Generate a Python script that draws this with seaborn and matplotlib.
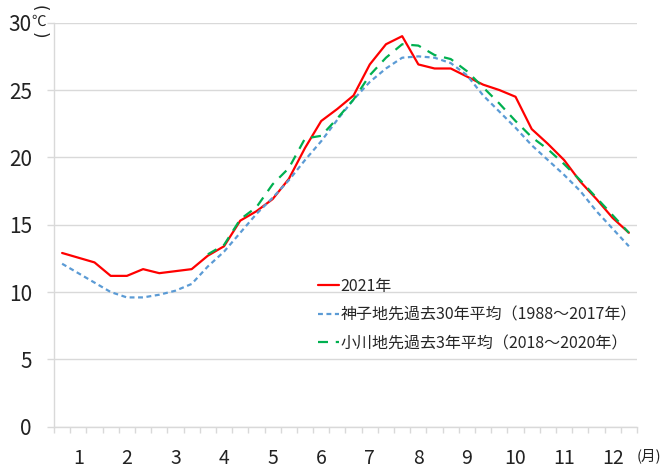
import numpy as np
import pandas as pd
import matplotlib.pyplot as plt
import seaborn as sns

# 旬別 (上旬・中旬・下旬) x 12 months
months = [str(m) for m in range(1, 13)]
periods = [f"{m}月{p}" for m in range(1, 13) for p in ["上旬", "中旬", "下旬"]]

temp_2021 = [12.9, 12.55, 12.2, 11.2, 11.2, 11.7, 11.4, 11.55, 11.7,
             12.7, 13.4, 15.3, 16.0, 16.9, 18.4, 20.7, 22.7, 23.6,
             24.6, 26.9, 28.4, 29.0, 26.9, 26.6, 26.6, 26.0, 25.4,
             25.0, 24.5, 22.1, 21.0, 19.8, 18.2, 16.9, 15.5, 14.4]
kobe_30yr = [12.1, 11.4, 10.7, 10.0, 9.6, 9.6, 9.8, 10.1, 10.6,
             11.9, 13.0, 14.4, 15.8, 17.0, 18.3, 19.8, 21.2, 22.8,
             24.3, 25.6, 26.6, 27.4, 27.5, 27.4, 27.0, 26.1, 24.6,
             23.4, 22.2, 20.9, 19.8, 18.7, 17.5, 16.0, 14.7, 13.4]
ogawa_3yr = [np.nan] * 9 + [12.8, 13.5, 15.4, 16.3, 18.0, 19.2, 21.4, 21.6, 22.9,
                            24.3, 26.1, 27.4, 28.4, 28.3, 27.6, 27.3, 26.4, 25.2,
                            24.0, 22.7, 21.5, 20.6, 19.5, 18.3, 17.0, 15.7, 14.4]

labels = ["2021年",
          "神子地先過去30年平均（1988～2017年）",
          "小川地先過去3年平均（2018～2020年）"]

df = pd.DataFrame({"period": periods, "pos": np.arange(len(periods)),
                   "t2021": temp_2021, "kobe": kobe_30yr, "ogawa": ogawa_3yr})

sns.set_theme(style="white")
plt.rcParams["font.family"] = ["Noto Sans CJK JP", "DejaVu Sans"]

fig = plt.figure(figsize=(6.62, 4.69), dpi=100)
ax = fig.add_axes([0.0816, 0.0902, 0.8806, 0.8614])

sns.lineplot(data=df, x="pos", y="t2021", ax=ax, color="#FF0000",
             linewidth=1.6, label=labels[0])
sns.lineplot(data=df, x="pos", y="kobe", ax=ax, color="#5B9BD5",
             linewidth=1.6, linestyle=(0, (2.2, 1.6)), label=labels[1])
sns.lineplot(data=df, x="pos", y="ogawa", ax=ax, color="#00B050",
             linewidth=1.6, linestyle=(0, (4.5, 3.5)), label=labels[2])

ax.set_xlim(-0.5, len(periods) - 0.5)
ax.set_ylim(0, 30)
ax.set_yticks(range(0, 31, 5))
ax.set_xticks([3 * i + 1 for i in range(12)])
ax.set_xticklabels(months, fontsize=14)
ax.set_xticks(np.arange(-0.5, len(periods), 1), minor=True)
ax.set_xlabel("")
ax.set_ylabel("")

ax.grid(axis="y", color="#D9D9D9", linewidth=1)
ax.set_axisbelow(True)
for s in ["top", "right"]:
    ax.spines[s].set_visible(False)
for s in ["left", "bottom"]:
    ax.spines[s].set_color("#D9D9D9")
    ax.spines[s].set_linewidth(1)

ax.tick_params(axis="y", which="major", left=True, length=5, width=1,
               color="#D9D9D9", labelsize=15, pad=11, labelcolor="#222222")
ax.tick_params(axis="x", which="major", bottom=True, length=0, pad=15,
               labelcolor="#222222")
ax.tick_params(axis="x", which="minor", bottom=True, length=4.5, width=1,
               color="#D9D9D9")

ax.legend(loc="upper left", bbox_to_anchor=(0.453, 0.368), frameon=False,
          fontsize=11.5, handlelength=1.3, handletextpad=0.1,
          labelspacing=0.72, borderaxespad=0, borderpad=0)

# unit labels: vertical (℃)
fig.text(39 / 662, 1 - 8 / 469, "(", fontsize=12, rotation=-90,
         ha="center", va="center", color="#222222", family="DejaVu Sans")
fig.text(39 / 662, 1 - 22 / 469, "℃", fontsize=10.5, ha="center", va="center",
         color="#222222")
fig.text(39 / 662, 1 - 35 / 469, ")", fontsize=12, rotation=-90,
         ha="center", va="center", color="#222222", family="DejaVu Sans")
fig.text(637 / 662, 1 - 456 / 469, "(月)", fontsize=10.5, ha="left", va="center",
         color="#222222")

fig.savefig("out.png", dpi=100)
